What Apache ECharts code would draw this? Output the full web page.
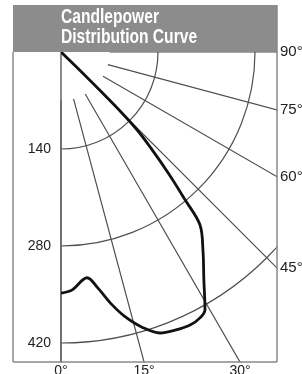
<!DOCTYPE html>
<html>
<head>
<meta charset="utf-8">
<script src="https://cdn.jsdelivr.net/npm/echarts@6/dist/echarts.min.js"></script>
<style>
  html, body { margin: 0; padding: 0; background: #fff; }
  #chart { width: 302px; height: 374px; }
</style>
</head>
<body>
<div id="chart"></div>
<script>
// candlepower curve, angle in degrees (0 = straight down) and candela
const curveAngles = [0, 2.6, 6.6, 8.9, 11.4, 13.6, 16.4, 19.4, 22.3, 25.3, 27.6, 29.2, 32.1, 35.6, 38.8, 40.0, 41.5, 43.1, 44.4, 45.2, 45.8, 46.2];
const curveValues = [348, 344, 328, 345, 372, 393, 414, 430, 434, 436, 433, 426, 388, 352, 320, 279, 235, 190, 155, 110, 50, 0];
const radiusTicks = [140, 280, 420];
const bottomAngles = [0, 15, 30];
const sideAngles = [90, 75, 60, 45];
const titleLines = ["Candlepower", "Distribution Curve"];

const chart = echarts.init(document.getElementById("chart"));

const frameL = 13, frameR = 277, frameB = 362, boxTop = 5, boxBottom = 52;
const cx = 61, cy = 52;

var option = {
  animation: false,
  polar: [
    { center: [cx, cy], radius: 388 },
    { center: [cx, cy], radius: [48.5, 388] },
  ],
  angleAxis: [
    {
      polarIndex: 0,
      type: "value",
      min: 0,
      max: 90,
      startAngle: 270,
      endAngle: 360,
      clockwise: false,
      axisLine: { show: false },
      axisTick: { show: false },
      axisLabel: { show: false },
      splitLine: { show: false },
    },
    {
      polarIndex: 1,
      type: "value",
      min: 0,
      max: 90,
      interval: 15,
      startAngle: 270,
      endAngle: 360,
      clockwise: false,
      axisLine: { show: false },
      axisTick: { show: false },
      axisLabel: { show: false },
      splitLine: { show: true, lineStyle: { color: "#4f4f4f", width: 1.2 } },
    },
  ],
  radiusAxis: [
    {
      polarIndex: 0,
      type: "value",
      min: 0,
      max: 560,
      interval: 140,
      axisLine: { lineStyle: { color: "#666", width: 1.5 } },
      axisTick: { show: false },
      axisLabel: {
        showMinLabel: false,
        color: "#222",
        fontSize: 14,
        fontFamily: "Liberation Sans",
        margin: -10,
        align: "right",
        formatter: (v) => (radiusTicks.includes(v) ? String(v) : ""),
      },
      splitLine: { show: true, lineStyle: { color: "#4f4f4f", width: 1.2 } },
    },
    { polarIndex: 1, type: "value", show: false },
  ],
  series: [
    {
      type: "line",
      coordinateSystem: "polar",
      polarIndex: 0,
      data: curveAngles.map((a, i) => [curveValues[i], a]),
      smooth: 0.35,
      showSymbol: false,
      lineStyle: { color: "#111", width: 2.8 },
      z: 5,
    },
  ],
};
chart.setOption(option);

// label positions from the polar scale: where each spoke meets the frame
const c = chart.convertToPixel({ seriesIndex: 0 }, [0, 0]);
const els = [
  { type: "rect", z: 100, shape: { x: frameR + 0.5, y: 0, width: 40, height: 374 }, style: { fill: "#fff" } },
  { type: "rect", z: 100, shape: { x: 0, y: frameB + 0.5, width: 302, height: 20 }, style: { fill: "#fff" } },
  { type: "rect", z: 105, shape: { x: frameL, y: boxTop, width: frameR - frameL, height: boxBottom - boxTop }, style: { fill: "#8c8c8c" } },
  { type: "line", z: 106, shape: { x1: frameL, y1: boxBottom, x2: frameL, y2: frameB }, style: { stroke: "#8a8a8a", lineWidth: 1.5 } },
  { type: "line", z: 106, shape: { x1: frameL, y1: frameB, x2: frameR, y2: frameB }, style: { stroke: "#8a8a8a", lineWidth: 1.5 } },
  { type: "line", z: 106, shape: { x1: frameR, y1: boxTop, x2: frameR, y2: frameB }, style: { stroke: "#8a8a8a", lineWidth: 1.5 } },
];
titleLines.forEach((t, i) => {
  els.push({
    type: "text", z: 107, x: cx, y: 27 + i * 20, scaleX: 0.78,
    style: { text: t, fill: "#fff", fontFamily: "Liberation Sans", fontWeight: "bold", fontSize: 20, textVerticalAlign: "bottom" },
  });
});
bottomAngles.forEach((a) => {
  const p = chart.convertToPixel({ seriesIndex: 0 }, [560, a]);
  const t = (frameB - c[1]) / (p[1] - c[1]);
  els.push({
    type: "text", z: 110, x: c[0] + t * (p[0] - c[0]), y: frameB + 2,
    style: { text: a + "°", fill: "#222", font: "14px 'Liberation Sans', sans-serif", textAlign: "center", textVerticalAlign: "top" },
  });
});
sideAngles.forEach((a) => {
  const p = chart.convertToPixel({ seriesIndex: 0 }, [560, a]);
  const t = (frameR - c[0]) / (p[0] - c[0]);
  els.push({
    type: "text", z: 110, x: frameR + 3, y: c[1] + t * (p[1] - c[1]),
    style: { text: a + "°", fill: "#222", font: "15px 'Liberation Sans', sans-serif", textAlign: "left", textVerticalAlign: "middle" },
  });
});
chart.setOption({ graphic: { elements: els } });
</script>
</body>
</html>
